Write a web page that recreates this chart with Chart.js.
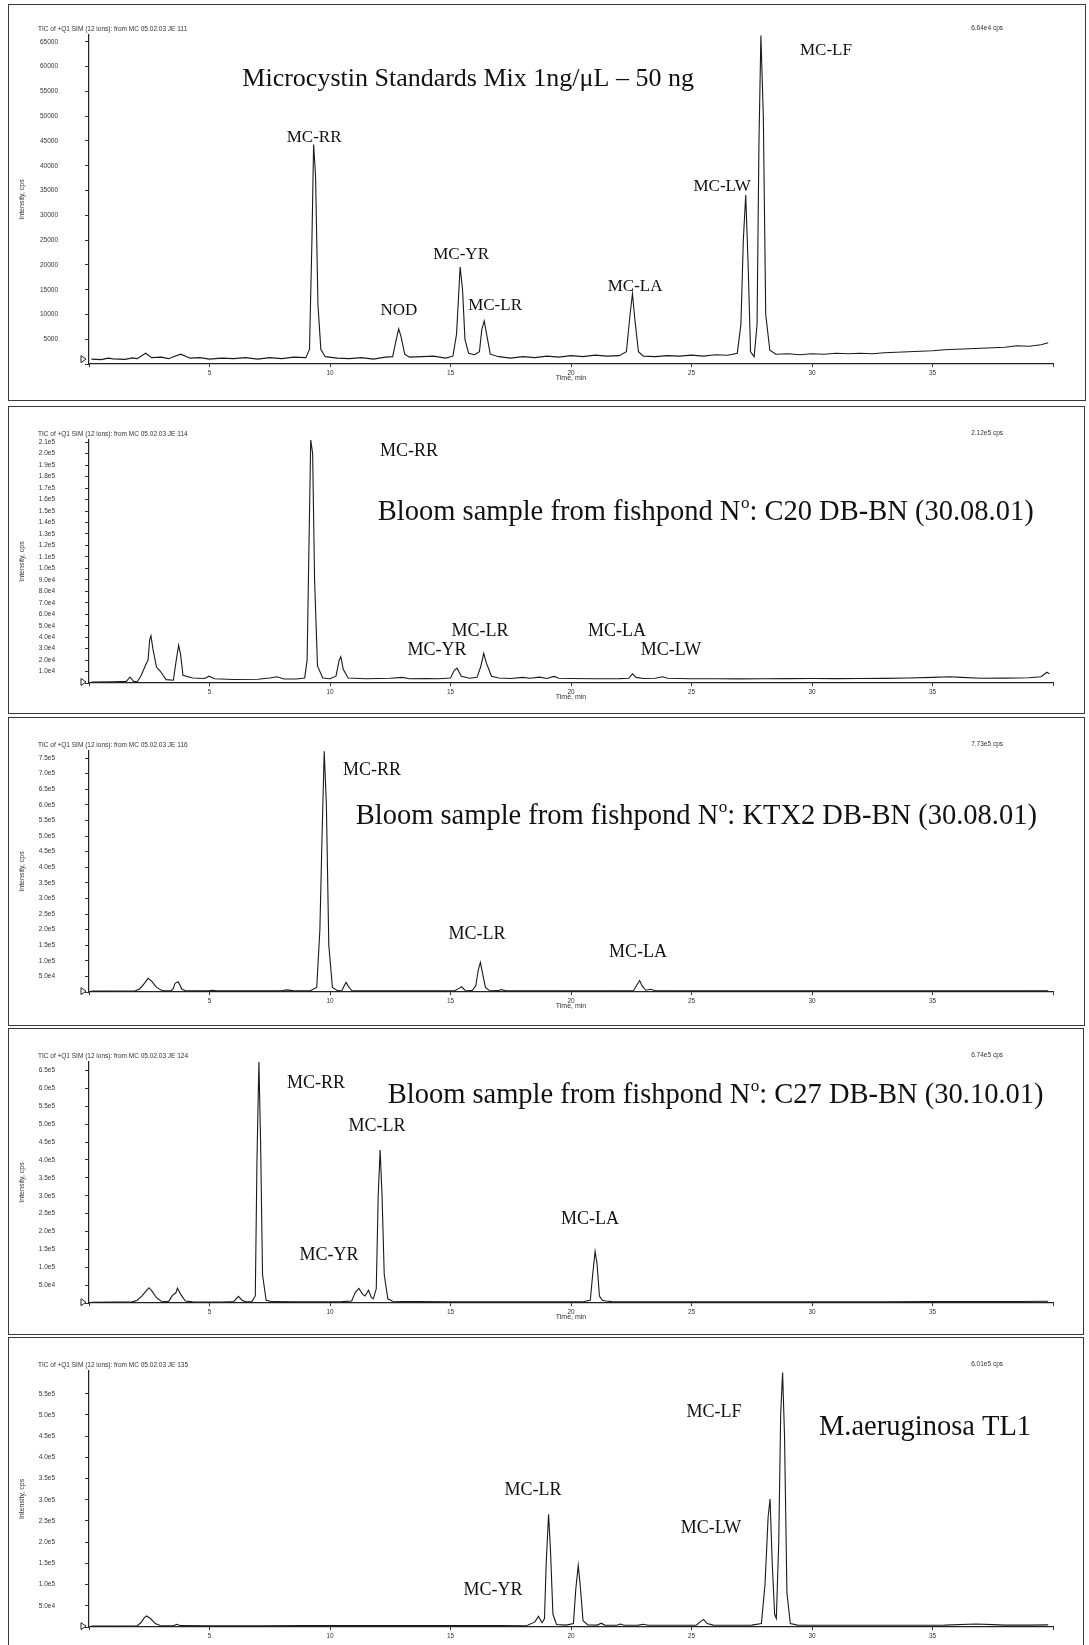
<!DOCTYPE html>
<html lang="en">
<head>
<meta charset="UTF-8">
<title>Microcystin SIM chromatograms</title>
<script src="https://cdn.jsdelivr.net/npm/chart.js"></script>
<style>
  html, body { margin: 0; padding: 0; background: #fff; }
  body { width: 1089px; height: 1645px; overflow: hidden; position: relative; }
  .frame { position: absolute; border: 1.6px solid #3a3a3a; box-sizing: border-box; }
  canvas { position: absolute; left: 0; }
</style>
</head>
<body>
<script>
// ---- data: [time (min), intensity (cps)] ----
const stdMixTrace = [
  [0.1,1000],[0.5,900],[0.8,1200],[1,1050],[1.5,950],[1.8,1250],[2,1100],[2.35,2200],[2.6,1300],[3,1400],
  [3.3,1100],[3.8,2000],[4.2,1200],[4.6,1300],[5,1000],[5.5,1200],[6,1100],[6.5,1300],[7,1000],[7.5,1300],
  [8,1100],[8.5,1400],[9,1300],[9.15,3000],[9.25,25000],[9.32,44300],[9.4,38000],[9.5,12000],[9.62,3000],
  [9.8,1500],[10.3,1200],[10.8,1100],[11.3,1300],[11.8,1000],[12.3,1400],[12.6,1500],[12.75,5000],[12.85,7100],
  [12.95,5500],[13.1,2000],[13.3,1400],[13.8,1500],[14.3,1600],[14.8,1200],[15.1,1600],[15.25,6000],[15.4,19600],
  [15.5,15000],[15.6,5000],[15.75,2200],[16.0,1900],[16.2,2500],[16.3,7000],[16.4,8700],[16.5,6000],[16.65,2000],
  [17,1500],[17.5,1200],[18,1500],[18.5,1300],[19,1600],[19.5,1400],[20,1700],[20.5,1500],[21,1800],[21.5,1600],
  [22,1700],[22.3,2500],[22.45,10000],[22.55,14200],[22.65,9000],[22.8,2500],[23,1600],[23.5,1500],[24,1700],
  [24.5,1600],[25,1800],[25.5,1600],[26,1900],[26.5,1800],[26.9,2200],[27.05,8000],[27.15,25000],[27.25,34100],
  [27.35,20000],[27.45,2500],[27.6,1500],[27.72,8000],[27.8,45000],[27.88,66300],[27.98,50000],[28.08,10000],
  [28.25,2800],[28.5,2000],[29,2100],[29.5,1900],[30,2100],[30.5,2000],[31,2200],[31.5,2100],[32,2200],[32.5,2100],
  [33,2300],[33.5,2400],[34,2500],[34.5,2600],[35,2700],[35.5,2900],[36,3000],[36.5,3100],[37,3200],[37.5,3300],
  [38,3400],[38.5,3700],[39,3600],[39.5,3900],[39.8,4300]
];
const c20Trace = [
  [0.1,1000],[1,1200],[1.55,1500],[1.7,5300],[1.85,1500],[2.0,1200],[2.15,6000],[2.35,15800],[2.45,20000],
  [2.52,38000],[2.57,41400],[2.65,30000],[2.8,14000],[2.95,10500],[3.2,3000],[3.5,2500],[3.62,20000],[3.72,33000],
  [3.8,25000],[3.9,6800],[4.3,4500],[4.8,4000],[4.98,6000],[5.2,3800],[6,3200],[7,3300],[7.5,4500],[7.8,5500],
  [8.1,3600],[8.6,3600],[8.95,4500],[9.05,20000],[9.12,110000],[9.2,212000],[9.28,200000],[9.36,90000],[9.48,15000],
  [9.7,4500],[10.0,3800],[10.25,6000],[10.38,20000],[10.45,23000],[10.55,12000],[10.75,4500],[11.5,3800],[12,4000],
  [12.5,4200],[13,5000],[13.3,3800],[14,4000],[14.5,3800],[15,4500],[15.15,11000],[15.27,13000],[15.45,6000],
  [15.8,4200],[16.1,5000],[16.25,14000],[16.38,26000],[16.48,18000],[16.7,6000],[17,4500],[17.5,4000],[18,5000],
  [18.3,4200],[18.7,5200],[19,4000],[19.3,5800],[19.5,4200],[20,4000],[21,3800],[22,3900],[22.4,4200],[22.55,8000],
  [22.7,5000],[23,4000],[23.5,4200],[23.8,5500],[24,4200],[25,3800],[26,3800],[27,3700],[28,3800],[29,3900],
  [30,4000],[31,3900],[32,4000],[33,4100],[34,4400],[35,5000],[35.7,5600],[36.2,5000],[37,4200],[38,4300],
  [39,4600],[39.5,5500],[39.75,9500],[39.85,8000]
];
const ktx2Trace = [
  [0.1,3000],[1,3500],[1.9,3500],[2.1,10000],[2.3,28000],[2.45,44000],[2.6,35000],[2.8,15000],[3.05,4500],
  [3.4,4000],[3.5,12000],[3.57,28000],[3.7,33000],[3.85,10000],[4.0,4500],[5,4000],[5.1,6000],[5.3,4000],[6,4000],
  [7,4000],[8,4200],[8.2,7000],[8.5,4000],[9.2,5000],[9.45,15000],[9.58,200000],[9.67,500000],[9.76,772000],
  [9.85,600000],[9.95,150000],[10.1,15000],[10.3,5000],[10.5,6000],[10.6,22000],[10.67,31000],[10.75,20000],
  [10.9,5000],[11.5,4000],[12.5,4000],[13.5,4200],[14.5,4500],[15.2,5000],[15.35,12000],[15.46,17000],[15.6,6000],
  [15.9,5000],[16.05,20000],[16.15,70000],[16.24,95000],[16.33,60000],[16.45,15000],[16.6,6000],[17,5000],
  [17.1,8000],[17.3,4500],[18,4200],[19,4200],[20,4000],[21,4000],[22,4200],[22.6,5000],[22.75,25000],[22.85,37000],
  [22.95,20000],[23.1,6000],[23.3,9000],[23.5,4500],[24.5,4000],[26,3800],[28,3800],[30,3800],[32,3900],[34,4000],
  [36,4000],[38,4000],[39.8,4200]
];
const c27Trace = [
  [0.1,2500],[1,3000],[1.8,3500],[2.0,8000],[2.2,20000],[2.4,36000],[2.49,43000],[2.6,35000],[2.8,15000],[3.0,5000],
  [3.3,4000],[3.45,20000],[3.52,24800],[3.6,28000],[3.67,41600],[3.8,25000],[4.0,6000],[4.3,3500],[5,3000],
  [5.5,3200],[6.0,4000],[6.2,19000],[6.35,8000],[6.5,3500],[6.75,3500],[6.9,20000],[6.97,400000],[7.05,674000],
  [7.12,450000],[7.2,80000],[7.35,8000],[7.6,4000],[8.5,3500],[9.5,3500],[10.5,4000],[10.9,6000],[11.05,30000],
  [11.2,41000],[11.35,25000],[11.45,20000],[11.6,36000],[11.72,15000],[11.8,12000],[11.92,40000],[12.0,300000],
  [12.08,428000],[12.16,300000],[12.25,80000],[12.4,12000],[12.6,5000],[13.5,4000],[15,3500],[17,3500],[19,3500],
  [20.5,3800],[20.8,8000],[20.9,80000],[21.0,144000],[21.08,110000],[21.18,20000],[21.3,8000],[21.45,6000],
  [21.7,4000],[23,3500],[25,3500],[27,3500],[29,3600],[31,3700],[33,3800],[35,4000],[37,4200],[38.5,4500],[39.8,5000]
];
const tl1Trace = [
  [0.1,2000],[1,2500],[2.0,3000],[2.15,10000],[2.3,22000],[2.39,26000],[2.55,20000],[2.75,8000],[2.95,3500],
  [3.5,3000],[3.64,6500],[3.8,3200],[5,3000],[7,3000],[9,3200],[11,3400],[13,3500],[15,3600],[17,3600],[18.2,4000],
  [18.5,12000],[18.65,25000],[18.8,10000],[18.9,20000],[18.97,150000],[19.07,266000],[19.15,180000],[19.25,30000],
  [19.4,6000],[19.8,4500],[20.1,8000],[20.2,90000],[20.3,145000],[20.38,100000],[20.5,15000],[20.7,5000],
  [21.1,4500],[21.25,9000],[21.4,4500],[21.9,4000],[22.05,7000],[22.2,4000],[22.8,4500],[23,6500],[23.2,4000],
  [24,4000],[25.2,4500],[25.4,14000],[25.5,18000],[25.65,8000],[25.9,4500],[26.5,4000],[27.5,4500],[27.9,8000],
  [28.05,100000],[28.18,260000],[28.26,302000],[28.35,150000],[28.45,30000],[28.52,20000],[28.62,200000],
  [28.7,500000],[28.78,600000],[28.86,450000],[28.96,80000],[29.1,8000],[29.4,4500],[30.5,4000],[32,4000],
  [34,4000],[35.5,4500],[36.8,7000],[37.5,5500],[38,4500],[39,4500],[39.8,5000]
];

// axis settings per panel
const yMax = [66400, 212000, 773000, 674000, 604000];
const yStep = [5000, 10000, 50000, 50000, 50000];
const yTopTick = [65000, 210000, 750000, 650000, 550000];
const timeTicks = [5, 10, 15, 20, 25, 30, 35];

const runNames = [
  'TIC of +Q1 SIM (12 ions): from MC 05.02.03 JE 111',
  'TIC of +Q1 SIM (12 ions): from MC 05.02.03 JE 114',
  'TIC of +Q1 SIM (12 ions): from MC 05.02.03 JE 116',
  'TIC of +Q1 SIM (12 ions): from MC 05.02.03 JE 124',
  'TIC of +Q1 SIM (12 ions): from MC 05.02.03 JE 135'
];
const fullScale = ['6.64e4 cps', '2.12e5 cps', '7.73e5 cps', '6.74e5 cps', '6.01e5 cps'];

// titles and peak names, anchored at [time, intensity]
const panelTitles = [
  ['Microcystin Standards Mix 1ng/\u03bcL \u2013 50 ng', 15.73, 57500],
  ['Bloom sample from fishpond N\u00ba: C20 DB-BN (30.08.01)', 25.58, 148600],
  ['Bloom sample from fishpond N\u00ba: KTX2 DB-BN (30.08.01)', 25.19, 563000],
  ['Bloom sample from fishpond N\u00ba: C27 DB-BN (30.10.01)', 25.99, 579400],
  ['M.aeruginosa TL1', 34.69, 469800]
];
const stdMixPeaks = [['MC-RR', 9.34, 45700], ['NOD', 12.86, 10800], ['MC-YR', 15.44, 22200], ['MC-LR', 16.85, 11900],
  ['MC-LA', 22.66, 15700], ['MC-LW', 26.27, 35800], ['MC-LF', 30.58, 63300]];
const c20Peaks = [['MC-RR', 13.28, 202300], ['MC-LR', 16.22, 45100], ['MC-YR', 14.44, 28600],
  ['MC-LA', 21.91, 45100], ['MC-LW', 24.15, 28600]];
const ktx2Peaks = [['MC-RR', 11.74, 711500], ['MC-LR', 16.1, 184000], ['MC-LA', 22.78, 126400]];
const c27Peaks = [['MC-RR', 9.42, 615400], ['MC-LR', 11.95, 495200], ['MC-YR', 9.96, 134600], ['MC-LA', 20.79, 233200]];
const tl1Peaks = [['MC-LF', 25.93, 506600], ['MC-LW', 25.81, 231700], ['MC-LR', 18.42, 322600], ['MC-YR', 16.76, 86600]];

const traces = [stdMixTrace, c20Trace, ktx2Trace, c27Trace, tl1Trace];
const peaks = [stdMixPeaks, c20Peaks, ktx2Peaks, c27Peaks, tl1Peaks];

// ---- page layout (px) ----
const frames = [[8, 4, 1086, 401], [8, 406, 1085, 714], [8, 717, 1085, 1026], [8, 1028, 1084, 1335], [8, 1337, 1084, 1700]];
const plotTop = [21, 417, 727, 1039, 1348];
const plotBottom = [377, 699, 1008, 1319, 1627];
const xAxisH = [18, 18, 18, 18, 34];

const SERIF = '"Liberation Serif", "Times New Roman", serif';
const SANS = '"Liberation Sans", Arial, sans-serif';

function drawTitle(ctx, text, cx, cy, size) {
  // "Nº" is drawn as N with a raised small o, as in the scan
  const parts = text.split('\u00ba');
  const main = size + 'px ' + SERIF, sup = (size * 0.6) + 'px ' + SERIF;
  ctx.font = main;
  let w = ctx.measureText(parts[0]).width;
  let ws = 0;
  if (parts.length > 1) {
    ctx.font = sup; ws = ctx.measureText('o').width;
    ctx.font = main; w += ws + ctx.measureText(parts[1]).width;
  }
  let x = cx - w / 2;
  ctx.textAlign = 'left';
  ctx.font = main;
  ctx.fillText(parts[0], x, cy);
  if (parts.length > 1) {
    x += ctx.measureText(parts[0]).width;
    ctx.font = sup;
    ctx.fillText('o', x + 0.5, cy - size * 0.32);
    x += ws + 0.5;
    ctx.font = main;
    ctx.fillText(parts[1], x, cy);
  }
}

const chromText = {
  id: 'chromText',
  afterDraw(chart, args, opts) {
    const i = opts.panel;
    const { ctx, chartArea } = chart;
    const xs = chart.scales.x, ys = chart.scales.y;
    ctx.save();
    ctx.fillStyle = '#333';
    ctx.textBaseline = 'middle';
    ctx.font = '6.5px ' + SANS;
    ctx.textAlign = 'left';
    ctx.fillText(runNames[i], 38, chartArea.top - 6);
    ctx.textAlign = 'right';
    ctx.fillText(fullScale[i], 1003, chartArea.top - 7);

    // baseline start marker
    const yb = ys.getPixelForValue(traces[i][0][1]);
    const xl = chartArea.left;
    ctx.strokeStyle = '#222'; ctx.lineWidth = 1;
    ctx.beginPath();
    ctx.moveTo(xl - 8, yb - 3.5); ctx.lineTo(xl - 3, yb); ctx.lineTo(xl - 8, yb + 3.5); ctx.closePath();
    ctx.stroke();

    ctx.fillStyle = '#111';
    const t = panelTitles[i];
    drawTitle(ctx, t[0], xs.getPixelForValue(t[1]), ys.getPixelForValue(t[2]), i === 0 ? 26 : 28.5);
    ctx.font = (i === 0 ? 17 : 18) + 'px ' + SERIF;
    ctx.textAlign = 'center';
    peaks[i].forEach(p => ctx.fillText(p[0], xs.getPixelForValue(p[1]), ys.getPixelForValue(p[2])));
    ctx.restore();
  }
};
Chart.register(chromText);

traces.forEach((trace, i) => {
  const [fl, ft, fr, fb] = frames[i];
  const frame = document.createElement('div');
  frame.className = 'frame';
  Object.assign(frame.style, { left: fl + 'px', top: ft + 'px', width: (fr - fl) + 'px', height: (fb - ft) + 'px' });
  document.body.appendChild(frame);

  const cv = document.createElement('canvas');
  const h = plotBottom[i] + xAxisH[i] - ft;
  cv.width = 1089; cv.height = h;
  cv.style.top = ft + 'px'; cv.style.width = '1089px'; cv.style.height = h + 'px';
  document.body.appendChild(cv);

  const yFmt = i === 0 ? (v => String(v)) : (v => v.toExponential(1).replace('+', ''));
  const yTicks = [];
  for (let k = 0; k * yStep[i] <= yTopTick[i]; k++) yTicks.push(k * yStep[i]);

  new Chart(cv.getContext('2d'), {
    type: 'line',
    data: {
      datasets: [{
        data: trace,
        borderColor: '#1a1a1a',
        borderWidth: 1.1,
        pointRadius: 0,
        tension: 0,
        fill: false
      }]
    },
    options: {
      responsive: false,
      animation: false,
      devicePixelRatio: 1,
      layout: { padding: { top: plotTop[i] - ft, left: 18, right: 36, bottom: 0 } },
      plugins: { legend: { display: false }, tooltip: { enabled: false }, chromText: { panel: i } },
      scales: {
        x: {
          type: 'linear', min: 0, max: 40,
          afterFit: s => { s.height = xAxisH[i]; },
          afterBuildTicks: s => { s.ticks = [0].concat(timeTicks, [40]).map(v => ({ value: v })); },
          border: { display: true, color: '#222', width: 1.2 },
          grid: { drawOnChartArea: false, drawTicks: true, tickLength: 3, color: '#333' },
          ticks: {
            padding: 2, color: '#333', maxRotation: 0, autoSkip: false,
            font: { family: SANS, size: 6.5 },
            callback: v => timeTicks.includes(v) ? String(v) : ''
          },
          title: { display: true, text: 'Time, min', color: '#333', padding: 0, font: { family: SANS, size: 7 } }
        },
        y: {
          min: 0, max: yMax[i],
          afterFit: s => { s.width = 71; },
          afterBuildTicks: s => { s.ticks = yTicks.map(v => ({ value: v })); },
          border: { display: true, color: '#222', width: 1.2 },
          grid: { drawOnChartArea: false, drawTicks: true, tickLength: 4, color: '#333' },
          ticks: {
            autoSkip: false, padding: i === 0 ? 27 : 30, color: '#333',
            font: { family: SANS, size: 6.5 },
            callback: v => v === 0 ? '' : yFmt(v)
          },
          title: { display: true, text: 'Intensity, cps', color: '#333', padding: 0, font: { family: SANS, size: 7 } }
        }
      }
    }
  });
});
</script>
</body>
</html>
